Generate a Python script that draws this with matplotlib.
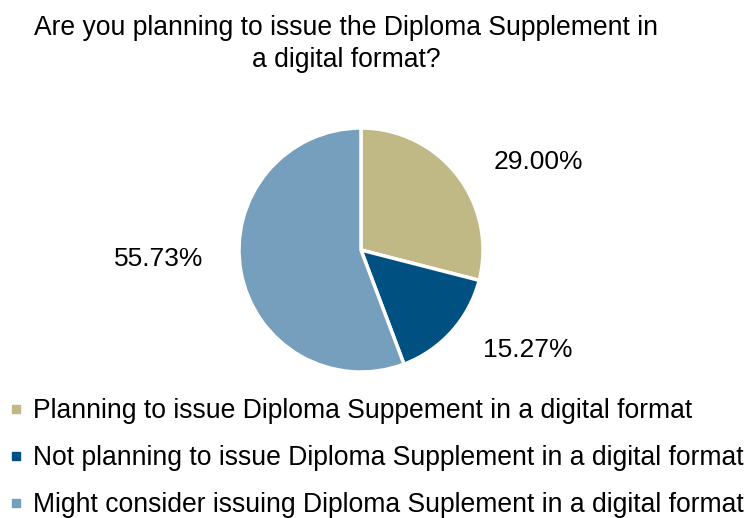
import matplotlib.pyplot as plt
from matplotlib.lines import Line2D

plt.rcParams['font.family'] = ['Liberation Sans', 'DejaVu Sans']

categories = ['Planning to issue Diploma Suppement in a digital format',
              'Not planning to issue Diploma Supplement in a digital format',
              'Might consider issuing Diploma Suplement in a digital format']
values = [29.00, 15.27, 55.73]
colors = ['#C0B885', '#005182', '#769FBD']
# label spots (in pie radius units), Excel-style placement
label_pos = [(1.45, 0.72), (1.37, -0.82), (-1.66, -0.07)]

fig = plt.figure(figsize=(7.48, 5.18), dpi=100)
W, H = 748, 518
cx, cy, r = 361, 250, 122
ax = fig.add_axes([(cx - r) / W, 1 - (cy + r) / H, 2 * r / W, 2 * r / H])

wedges, texts, autotexts = ax.pie(values, colors=colors, startangle=90, counterclock=False,
                                  autopct='%.2f%%', radius=1,
                                  wedgeprops=dict(edgecolor='white', linewidth=2.5),
                                  textprops=dict(fontsize=19, color='black'))
for t, p in zip(autotexts, label_pos):
    t.set_position(p)
ax.set_xlim(-1, 1)
ax.set_ylim(-1, 1)

fig.text(346 / W, 1 - 44 / H, 'Are you planning to issue the Diploma Supplement in\na digital format?',
         ha='center', va='center', fontsize=19.1, linespacing=1.3)

handles = [Line2D([], [], marker='s', linestyle='', markersize=6, color=c) for c in colors]
fig.legend(handles, categories, loc='upper left', bbox_to_anchor=(8 / W, 1 - 398 / H),
           frameon=False, fontsize=19.1, handlelength=0.6, handletextpad=0.35,
           labelspacing=0.8, borderaxespad=0, borderpad=0)

fig.savefig('out.png', dpi=100)
